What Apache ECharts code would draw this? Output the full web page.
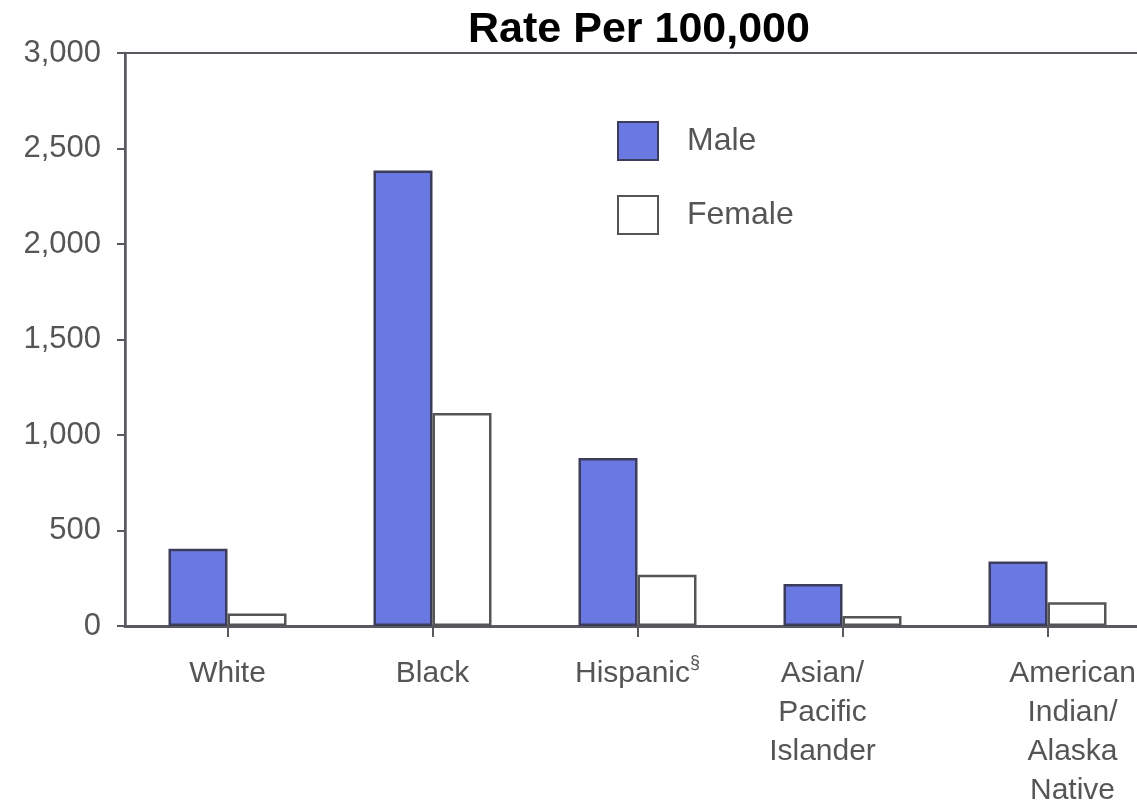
<!DOCTYPE html>
<html>
<head>
<meta charset="utf-8">
<script src="https://cdn.jsdelivr.net/npm/echarts@6/dist/echarts.min.js"></script>
<style>
  html, body { margin: 0; padding: 0; background: #ffffff; overflow: hidden; }
  /* the plot runs slightly past the right edge of the page, as in print */
  #chart { width: 1160px; height: 804px; }
</style>
</head>
<body>
<div id="chart"></div>
<script>
// Rate per 100,000 by race/ethnicity and sex
const categories = ['White', 'Black', 'Hispanic§', 'Asian/\nPacific\nIslander', 'American\nIndian/\nAlaska\nNative'];
const maleRates = [405, 2385, 880, 220, 338];
const femaleRates = [65, 1115, 268, 52, 125];
const yTicks = [0, 500, 1000, 1500, 2000, 2500, 3000];

// nudge for the two right-most multi-line labels
const labelPadding = [null, null, null, [0, 40, 0, 0], [0, 0, 0, 50]];

const FONT = '"Liberation Sans", Arial, Helvetica, sans-serif';
const TEXT_GRAY = '#555555';
const AXIS_GRAY = '#5a5860';

const chart = echarts.init(document.getElementById('chart'), null, { renderer: 'canvas' });

chart.setOption({
  backgroundColor: '#ffffff',
  animation: false,
  title: {
    text: 'Rate Per 100,000',
    left: 634,
    top: 4,
    textAlign: 'center',
    textStyle: { fontFamily: FONT, fontWeight: 'bold', fontSize: 43, color: '#000000' }
  },
  legend: {
    orient: 'vertical',
    left: 612,
    top: 116,
    icon: 'rect',
    itemWidth: 40,
    itemHeight: 38,
    itemGap: 34,
    textStyle: { fontFamily: FONT, fontSize: 32, color: TEXT_GRAY, padding: [0, 0, 0, 24] },
    data: ['Male', 'Female']
  },
  grid: {
    left: 125,
    top: 53,
    width: 1025,
    height: 573,
    outerBoundsMode: 'none',
    show: true,
    backgroundColor: 'transparent',
    borderColor: AXIS_GRAY,
    borderWidth: 2
  },
  xAxis: {
    type: 'category',
    data: categories.map((c, i) => labelPadding[i]
      ? { value: c, textStyle: { padding: labelPadding[i] } }
      : c),
    axisLine: { show: true, lineStyle: { color: AXIS_GRAY, width: 3 } },
    axisTick: { show: true, alignWithLabel: true, length: 11, lineStyle: { color: AXIS_GRAY, width: 2 } },
    axisLabel: {
      interval: 0,
      margin: 28,
      fontFamily: FONT,
      fontSize: 30,
      lineHeight: 39,
      color: TEXT_GRAY,
      formatter: v => v.replace('§', '{sup|§}'),
      rich: {
        sup: { fontFamily: FONT, fontSize: 18, color: TEXT_GRAY, verticalAlign: 'top', padding: [0, 0, 14, 0] }
      }
    }
  },
  yAxis: {
    type: 'value',
    min: yTicks[0],
    max: yTicks[yTicks.length - 1],
    interval: yTicks[1] - yTicks[0],
    splitLine: { show: false },
    axisLine: { show: true, lineStyle: { color: AXIS_GRAY, width: 2.5 } },
    axisTick: { show: true, length: 8, lineStyle: { color: AXIS_GRAY, width: 2 } },
    axisLabel: {
      margin: 24,
      fontFamily: FONT,
      fontSize: 31,
      color: TEXT_GRAY,
      formatter: v => v.toLocaleString('en-US')
    }
  },
  series: [
    {
      name: 'Male',
      type: 'bar',
      data: maleRates,
      barWidth: 59,
      barGap: '0%',
      itemStyle: { color: '#6a78e2', borderColor: '#3c3c5c', borderWidth: 2.5 }
    },
    {
      name: 'Female',
      type: 'bar',
      data: femaleRates,
      barWidth: 59,
      barGap: '0%',
      itemStyle: { color: '#ffffff', borderColor: '#555555', borderWidth: 2.5 }
    }
  ]
});
</script>
</body>
</html>
